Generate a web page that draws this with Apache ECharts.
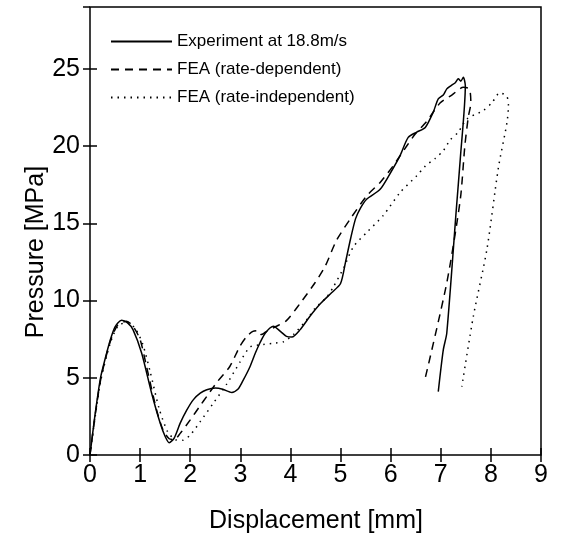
<!DOCTYPE html>
<html>
<head>
<meta charset="utf-8">
<script src="https://cdn.jsdelivr.net/npm/echarts@6/dist/echarts.min.js"></script>
<style>html,body{margin:0;padding:0;background:#fff;}#c{width:561px;height:536px;}</style>
</head>
<body>
<div id="c"></div>
<script>
var seriesNames = ['Experiment at 18.8m/s', 'FEA (rate-dependent)', 'FEA (rate-independent)'];
var xTicks = [0,1,2,3,4,5,6,7,8,9];
var yTicks = [0,5,10,15,20,25];
var xTitle = 'Displacement [mm]';
var yTitle = 'Pressure [MPa]';

var experiment = [[0,0],[0.1,2.6],[0.21,5.0],[0.3,6.2],[0.4,7.4],[0.5,8.3],[0.63,8.72],[0.75,8.55],[0.86,8.1],[1.03,6.6],[1.23,4.0],[1.4,2.07],[1.5,1.2],[1.58,0.8],[1.68,1.1],[1.8,2.06],[1.93,2.9],[2.06,3.57],[2.2,4.0],[2.33,4.22],[2.5,4.33],[2.65,4.25],[2.83,4.05],[2.95,4.25],[3.05,4.8],[3.19,5.7],[3.3,6.6],[3.39,7.25],[3.5,7.9],[3.66,8.33],[3.8,8.0],[3.92,7.68],[4.03,7.64],[4.19,8.1],[4.39,8.98],[4.6,9.8],[4.82,10.5],[5.0,11.1],[5.1,12.5],[5.2,14.0],[5.3,15.3],[5.4,16.0],[5.52,16.56],[5.79,17.2],[6.02,18.4],[6.19,19.4],[6.35,20.56],[6.52,20.9],[6.69,21.2],[6.85,22.2],[6.95,23.05],[7.05,23.3],[7.12,23.7],[7.2,23.9],[7.29,24.1],[7.35,24.35],[7.4,24.2],[7.45,24.45],[7.49,23.9],[7.39,19.2],[7.31,15.9],[7.12,7.9],[7.05,6.8],[6.95,4.1]];

var rateDependent = [[0,0],[0.1,2.5],[0.22,5.0],[0.4,7.3],[0.55,8.4],[0.73,8.66],[0.86,8.33],[1.0,7.47],[1.13,5.7],[1.33,2.9],[1.46,1.6],[1.58,1.05],[1.68,1.0],[1.8,1.4],[2.0,2.27],[2.2,3.2],[2.33,3.79],[2.53,4.7],[2.79,5.73],[2.99,7.03],[3.13,7.68],[3.25,8.0],[3.35,8.05],[3.42,7.8],[3.5,7.95],[3.7,8.3],[3.92,8.7],[4.19,9.8],[4.49,11.15],[4.69,12.2],[4.92,13.9],[5.19,15.26],[5.52,16.77],[5.79,17.64],[6.05,18.72],[6.32,20.0],[6.49,20.78],[6.72,21.6],[6.99,22.8],[7.22,23.3],[7.45,23.8],[7.57,23.7],[7.6,22.8],[7.55,21.9],[7.48,20.0],[7.39,16.56],[7.12,11.15],[6.69,4.98]];

var rateIndependent = [[0,0],[0.1,2.4],[0.22,4.9],[0.4,7.2],[0.55,8.3],[0.73,8.6],[0.9,8.2],[1.05,7.2],[1.2,5.4],[1.38,3.0],[1.55,1.5],[1.7,1.0],[1.85,0.95],[2.0,1.3],[2.2,2.16],[2.46,3.35],[2.73,4.6],[2.99,6.0],[3.2,7.0],[3.46,7.15],[3.7,7.25],[3.86,7.33],[4.06,7.8],[4.36,8.9],[4.49,9.5],[4.72,10.2],[4.86,10.9],[5.06,12.1],[5.26,13.5],[5.52,14.4],[5.85,15.5],[6.19,17.0],[6.52,18.07],[6.69,18.7],[6.89,19.2],[7.05,19.7],[7.19,20.4],[7.35,20.9],[7.52,21.75],[7.85,22.3],[8.02,22.8],[8.18,23.45],[8.32,23.2],[8.35,22.6],[8.32,21.5],[8.15,18.6],[7.92,13.3],[7.65,8.98],[7.42,4.43]];

var FONT = '"Liberation Sans", Arial, Helvetica, sans-serif';
var chart = echarts.init(document.getElementById('c'), null, {renderer: 'canvas'});

function xAx(top) {
  return {
    type: 'value', min: xTicks[0], max: xTicks[xTicks.length - 1], interval: 1,
    position: top ? 'top' : 'bottom',
    axisLine: {show: false},
    axisTick: {show: true, inside: true, length: 7, lineStyle: {color: '#000', width: 1.5}},
    axisLabel: {show: !top, color: '#000', fontSize: 25, fontFamily: FONT, margin: 8},
    splitLine: {show: false}
  };
}
function yAx(right) {
  return {
    type: 'value', min: 0, max: 29, interval: 5,
    position: right ? 'right' : 'left',
    axisLine: {show: false},
    axisTick: {show: true, inside: true, length: 7, lineStyle: {color: '#000', width: 1.5}},
    axisLabel: {show: !right, color: '#000', fontSize: 25, fontFamily: FONT, margin: 10, showMaxLabel: false,
      formatter: function (v) { return yTicks.indexOf(v) >= 0 ? String(v) : ''; }},
    splitLine: {show: false}
  };
}
function ser(name, data, type) {
  return {
    name: name, type: 'line', data: data, xAxisIndex: 0, yAxisIndex: 0,
    symbol: 'none', showSymbol: false, smooth: 0.25, animation: false,
    itemStyle: {color: '#000'},
    lineStyle: {color: '#000', width: 1.5, type: type}
  };
}

chart.setOption({
  animation: false,
  backgroundColor: '#fff',
  grid: {left: 90, right: 20, top: 7, bottom: 81, show: true, borderColor: '#000', borderWidth: 1.5, backgroundColor: '#fff'},
  xAxis: [xAx(false), xAx(true)],
  yAxis: [yAx(false), yAx(true)],
  legend: {
    orient: 'vertical', left: 105, top: 28, itemWidth: 61, itemHeight: 16, itemGap: 11,
    data: seriesNames, selectedMode: false,
    itemStyle: {opacity: 0},
    textStyle: {color: '#000', fontSize: 17, fontFamily: FONT}
  },
  graphic: [
    {type: 'text', x: 316, y: 521, style: {text: xTitle, fontSize: 25, fontFamily: FONT, fill: '#000', align: 'center', verticalAlign: 'middle'}},
    {type: 'text', x: 36, y: 252, rotation: Math.PI / 2, style: {text: yTitle, fontSize: 25, fontFamily: FONT, fill: '#000', align: 'center', verticalAlign: 'middle'}}
  ],
  series: [
    ser(seriesNames[0], experiment, 'solid'),
    ser(seriesNames[1], rateDependent, [8, 6]),
    ser(seriesNames[2], rateIndependent, [1.5, 5])
  ]
});
</script>
</body>
</html>
